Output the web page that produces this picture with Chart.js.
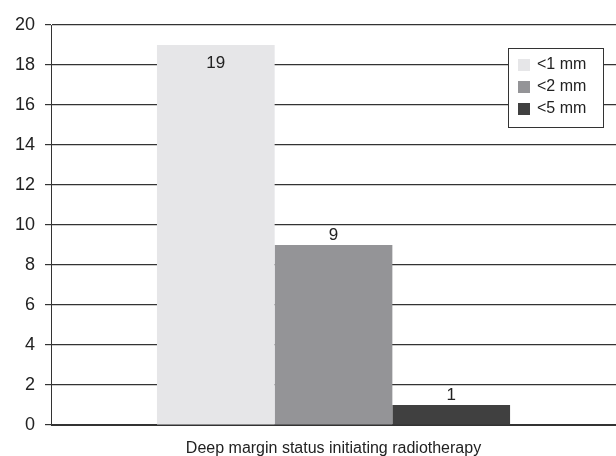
<html>
    <head>
        <title>Deep margin status</title>
        <style>
            body { margin: 0; background: #fff; }
        </style>
    </head>
    <body>
        <canvas id="chart" width="616" height="456"></canvas>
        <script src="https://cdn.jsdelivr.net/npm/chart.js@4/dist/chart.umd.min.js"></script>
        <script>
            const categories = ['Deep margin status initiating radiotherapy']
            const seriesNames = ['<1 mm', '<2 mm', '<5 mm']
            const under1mm = [19]
            const under2mm = [9]
            const under5mm = [1]
            const yTicks = [0, 2, 4, 6, 8, 10, 12, 14, 16, 18, 20]

            const colors = ['#e6e6e8', '#949497', '#404040']
            const font = 'Liberation Sans, Arial, sans-serif'

            // value labels over each bar, inside when it is too close to the top
            const valueLabels = {
                id: 'valueLabels',
                afterDatasetsDraw(chart) {
                    const ctx = chart.ctx
                    ctx.save()
                    ctx.font = '17px ' + font
                    ctx.fillStyle = '#222'
                    ctx.textAlign = 'center'
                    ctx.textBaseline = 'bottom'
                    chart.data.datasets.forEach((ds, i) => {
                        chart.getDatasetMeta(i).data.forEach((bar, j) => {
                            let y = bar.y - 1
                            if (y - 40 < chart.chartArea.top) y = bar.y + 27
                            ctx.fillText(ds.data[j], bar.x, y)
                        })
                    })
                    ctx.restore()
                }
            }

            // boxed legend in the top right corner of the plot
            const boxLegend = {
                id: 'boxLegend',
                afterDraw(chart) {
                    const ctx = chart.ctx
                    const area = chart.chartArea
                    const w = 95, h = 79
                    const x = area.right - 13 - w
                    const y = area.top + 23
                    ctx.save()
                    ctx.fillStyle = '#fff'
                    ctx.fillRect(x, y, w, h)
                    ctx.strokeStyle = '#333'
                    ctx.lineWidth = 1
                    ctx.strokeRect(x + 0.5, y + 0.5, w, h)
                    ctx.font = '16px ' + font
                    ctx.textBaseline = 'middle'
                    chart.data.datasets.forEach((ds, i) => {
                        const cy = y + 17 + i * 22
                        ctx.fillStyle = ds.backgroundColor
                        ctx.fillRect(x + 10, cy - 6, 12, 12)
                        ctx.fillStyle = '#222'
                        ctx.fillText(ds.label, x + 29, cy)
                    })
                    ctx.restore()
                }
            }

            new Chart(document.getElementById('chart'), {
                type: 'bar',
                data: {
                    labels: categories,
                    datasets: [
                        { label: seriesNames[0], data: under1mm, backgroundColor: colors[0] },
                        { label: seriesNames[1], data: under2mm, backgroundColor: colors[1] },
                        { label: seriesNames[2], data: under5mm, backgroundColor: colors[2] }
                    ]
                },
                options: {
                    responsive: false,
                    animation: false,
                    layout: { padding: { top: 25, right: 0, left: 5, bottom: 0 } },
                    datasets: { bar: { categoryPercentage: 0.625, barPercentage: 1 } },
                    plugins: {
                        legend: { display: false },
                        tooltip: { enabled: false }
                    },
                    scales: {
                        x: {
                            grid: { display: false, drawTicks: false },
                            border: { display: true, color: '#333', width: 1 },
                            ticks: { color: '#222', font: { family: font, size: 16 }, padding: 14 },
                            afterFit(axis) { axis.height = 31 }
                        },
                        y: {
                            min: 0,
                            max: 20,
                            afterBuildTicks(axis) {
                                axis.ticks = yTicks.map(v => ({ value: v }))
                            },
                            grid: { color: '#333', lineWidth: 1.2, tickLength: 6 },
                            border: { display: true, color: '#333', width: 1 },
                            ticks: { color: '#222', font: { family: font, size: 18 }, padding: 10 }
                        }
                    }
                },
                plugins: [valueLabels, boxLegend]
            })
        </script>
    </body>
</html>
